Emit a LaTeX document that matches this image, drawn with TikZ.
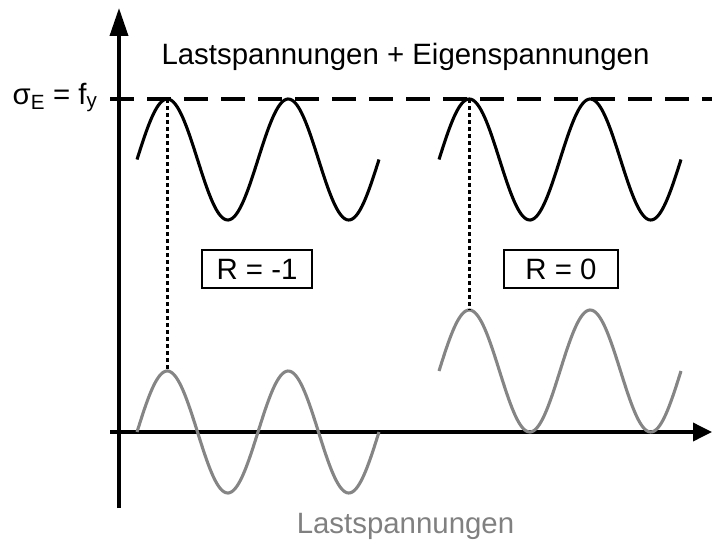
\documentclass[tikz,border=0pt]{standalone}
\usepackage{fontspec}
\setmainfont{Liberation Sans}
\usetikzlibrary{arrows.meta}

\begin{document}
\begin{tikzpicture}[
        x=1pt, y=-1pt,
        font=\fontsize{29.4}{35}\selectfont,
        axis/.style     ={line width=3.6pt},
        wave/.style     ={line width=3.1pt, samples=160, smooth},
        loadwave/.style ={wave, black!48},
        yieldline/.style={line width=3.1pt, dash pattern=on 24pt off 13pt},
        drop/.style     ={line width=3.5pt, dash pattern=on 4pt off 3pt},
        ratio/.style    ={draw, line width=1.7pt, minimum height=38pt, inner sep=0pt},
    ]
        \useasboundingbox (0,0) rectangle (712,543);

        % --- Achsen ---
        \coordinate (ybot) at (119,508);
        \coordinate (ytop) at (119,8);
        \coordinate (xl)   at (110,432);
        \coordinate (xr)   at (712,432);
        \draw[axis, -{Triangle[length=28pt, width=18pt]}] (ybot) -- (ytop);
        \draw[axis, -{Triangle[length=19pt, width=18pt]}] (xl) -- (xr);

        % --- Fliessgrenze ---
        \coordinate (fyl) at (110,99);
        \coordinate (fyr) at (712,99);
        \draw[yieldline] (fyl) -- (fyr);
        \node[anchor=base east] (sig) at (101,104) {σ\textsubscript{E} = f\textsubscript{y}};

        % --- Lastspannungen + Eigenspannungen (schwarz) ---
        \draw[wave] plot[domain=0:242] ({137+\x},{159.5-60.5*sin(2.9752*\x)});
        \draw[wave] plot[domain=0:242] ({439+\x},{159.5-60.5*sin(2.9752*\x)});

        % --- Lastspannungen (grau) ---
        \draw[loadwave] plot[domain=0:242] ({137+\x},{432-61*sin(2.9752*\x)});
        \draw[loadwave] plot[domain=0:242] ({439+\x},{371-61*sin(2.9752*\x)});

        % --- Verbindungen der Spitzen ---
        \coordinate (pk1)  at (167.25,99);
        \coordinate (pk1g) at (167.25,371);
        \coordinate (pk2)  at (469.25,99);
        \coordinate (pk2g) at (469.25,310);
        \draw[drop] (pk1) -- (pk1g);
        \draw[drop] (pk2) -- (pk2g);

        % --- Spannungsverhaeltnis ---
        \node[ratio, minimum width=110pt] (rm1) at (257,269) {R = -1};
        \node[ratio, minimum width=114pt] (r0)  at (561,269) {R = 0};

        % --- Beschriftungen ---
        \node[anchor=base] (sum)  at (405.5,65)  {Lastspannungen + Eigenspannungen};
        \node[anchor=base, text=black!50] (load) at (405.5,533) {Lastspannungen};
    \end{tikzpicture}
\end{document}
